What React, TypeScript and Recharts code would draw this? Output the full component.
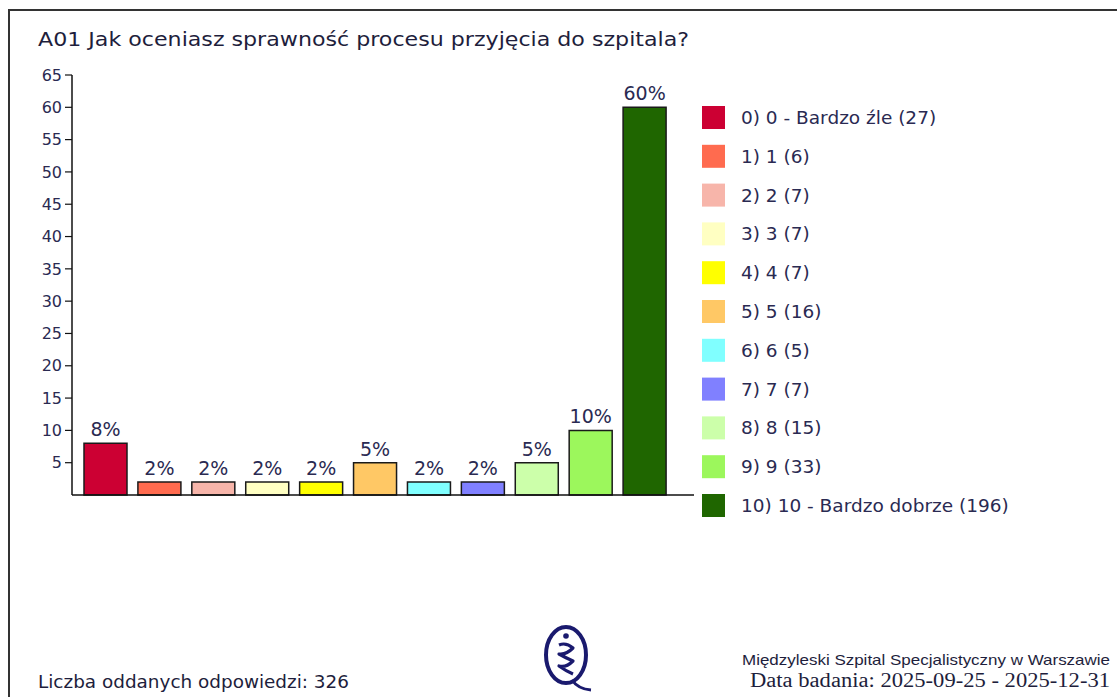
import React from 'react';
import { BarChart, Bar, XAxis, YAxis, Cell, LabelList } from 'recharts';

const categories = [
  '0 - Bardzo źle',
  '1',
  '2',
  '3',
  '4',
  '5',
  '6',
  '7',
  '8',
  '9',
  '10 - Bardzo dobrze',
];
const counts = [27, 6, 7, 7, 7, 16, 5, 7, 15, 33, 196];
const percents = [8, 2, 2, 2, 2, 5, 2, 2, 5, 10, 60];
const colors = [
  '#cc0033',
  '#ff6b4f',
  '#f7b5aa',
  '#ffffc2',
  '#ffff00',
  '#ffc865',
  '#80ffff',
  '#8080ff',
  '#ccffaa',
  '#9cf75c',
  '#1f6600',
];
const yTicks = [5, 10, 15, 20, 25, 30, 35, 40, 45, 50, 55, 60, 65];

const title = 'A01 Jak oceniasz sprawność procesu przyjęcia do szpitala?';
const totalLabel = 'Liczba oddanych odpowiedzi: 326';
const hospital = 'Międzyleski Szpital Specjalistyczny w Warszawie';
const studyDates = 'Data badania: 2025-09-25 - 2025-12-31';

const data = categories.map((name, i) => ({
  name,
  pct: percents[i],
  count: counts[i],
}));

const W = 1117;
const H = 697;
const NAVY = '#2a2a52';
const FONT = '"DejaVu Sans", Verdana, sans-serif';

const Overlay = () => (
  <svg
    width={W}
    height={H}
    style={{ position: 'absolute', left: 0, top: 0, pointerEvents: 'none' }}
  >
    <rect x={9} y={10} width={1300} height={900} fill='none' stroke='#333' strokeWidth={2} />
    <text x={38} y={46} fontFamily={FONT} fontSize={19} fill='#1e1e3c' textLength={651} lengthAdjust='spacingAndGlyphs'>
      {title}
    </text>

    {data.map((d, i) => (
      <g key={d.name}>
        <rect x={702} y={106 + i * 38.8} width={23} height={23} fill={colors[i]} />
        <text x={741} y={124 + i * 38.8} fontFamily={FONT} fontSize={18.5} fill={NAVY}>
          {`${i}) ${d.name} (${d.count})`}
        </text>
      </g>
    ))}

    <text x={38} y={688} fontFamily={FONT} fontSize={17} fill='#1e1e3c' textLength={311} lengthAdjust='spacingAndGlyphs'>
      {totalLabel}
    </text>

    <g fill='none' stroke='#1a1a6e'>
      <ellipse cx={566} cy={655} rx={20} ry={28} strokeWidth={4} />
      <path d='M572 680 Q578 689 591 690' strokeWidth={3} />
      <path
        d='M559 645 Q566 642 573 648 Q566 655 559 654 Q566 658 573 661 Q566 668 559 666 Q566 671 573 674'
        strokeWidth={3.2}
        strokeLinejoin='round'
      />
    </g>
    <circle cx={566} cy={636} r={2.8} fill='#1a1a6e' />

    <text x={1110} y={665} textAnchor='end' fontFamily='"Liberation Sans Narrow", "Liberation Sans", sans-serif' fontSize={15} fill='#1e1e3c' textLength={368} lengthAdjust='spacingAndGlyphs'>
      {hospital}
    </text>
    <text x={1110} y={687} textAnchor='end' fontFamily='"Liberation Serif", serif' fontSize={20} fill='#1e1e3c' textLength={360} lengthAdjust='spacingAndGlyphs'>
      {studyDates}
    </text>
  </svg>
);

export default function App() {
  return (
    <div
      style={{
        position: 'absolute',
        left: 0,
        top: 0,
        width: W,
        height: H,
        background: '#fff',
        overflow: 'hidden',
      }}
    >
      <BarChart
        width={W}
        height={H}
        data={data}
        margin={{ top: 75, right: 423, left: 32, bottom: 201 }}
      >
        <XAxis
          dataKey='name'
          tick={false}
          tickLine={false}
          height={1}
          padding={{ left: 7, right: 22 }}
          axisLine={{ stroke: '#111', strokeWidth: 1.5 }}
        />
        <YAxis
          width={40}
          domain={[0, 65]}
          ticks={yTicks}
          interval={0}
          tickSize={7}
          tickMargin={3}
          tick={{ fill: NAVY, fontSize: 16, fontFamily: FONT }}
          tickLine={{ stroke: '#111', strokeWidth: 1.2 }}
          axisLine={{ stroke: '#111', strokeWidth: 1.5 }}
        />
        <Bar
          dataKey='pct'
          barSize={43}
          stroke='#1a1a1a'
          strokeWidth={1.5}
          isAnimationActive={false}
        >
          {data.map((d, i) => (
            <Cell key={d.name} fill={colors[i]} />
          ))}
          <LabelList
            dataKey='pct'
            position='top'
            offset={7}
            formatter={(v: number) => `${v}%`}
            fill={NAVY}
            fontSize={19}
            fontFamily={FONT}
          />
        </Bar>
      </BarChart>
      <Overlay />
    </div>
  );
}
